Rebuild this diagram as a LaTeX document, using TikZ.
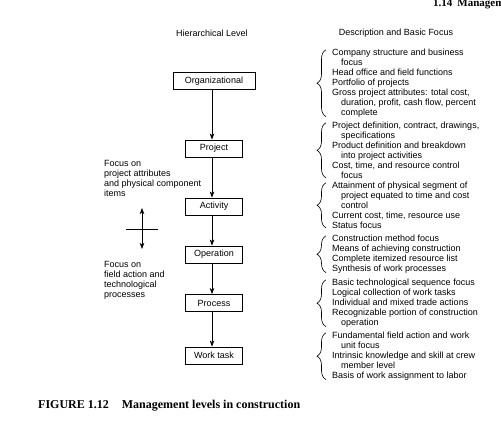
\documentclass[tikz,border=0pt]{standalone}
\usepackage{fontspec}
\setmainfont{Liberation Sans}
\newfontfamily\capfont{Liberation Serif}
\usetikzlibrary{arrows.meta,decorations.pathreplacing}
\begin{document}
\begin{tikzpicture}[x=1pt,y=-1pt,
  lvl/.style={draw,line width=0.8pt,minimum width=57pt,minimum height=17pt,inner sep=0pt,font=\fontsize{9}{10}\selectfont},
  desc/.style={anchor=north west,align=left,inner sep=0pt,font=\fontsize{9}{10}\selectfont},
  head/.style={inner sep=0pt,font=\fontsize{9}{10}\selectfont},
  conn/.style={line width=0.8pt,-{Stealth[length=6pt,width=4.5pt,inset=1.5pt]}},
  grp/.style={decorate,decoration={brace,amplitude=9pt},line width=0.6pt}]
\useasboundingbox (0,0) rectangle (501,432);
\clip (0,0) rectangle (501,432);
\node[anchor=base west,inner sep=0pt,font=\capfont\bfseries\fontsize{11}{13}\selectfont] (hdr) at (433,6) {1.14\hspace{5pt}Management};
\node[head] (hl) at (212,33) {Hierarchical Level};
\node[head] (dl) at (396,33) {Description and Basic Focus};
\node[lvl,minimum width=82pt] (org) at (214,81) {Organizational};
\node[lvl] (proj) at (214,148.5) {Project};
\node[lvl] (act) at (214,206.5) {Activity};
\node[lvl] (oper) at (214,254.5) {Operation};
\node[lvl] (proc) at (214,303) {Process};
\node[lvl] (wt) at (214,355.5) {Work task};
\draw[conn] (org.south -| 212,0) -- (proj.north -| 212,0);
\draw[conn] (proj.south -| 212,0) -- (act.north -| 212,0);
\draw[conn] (act.south -| 212,0) -- (oper.north -| 212,0);
\draw[conn] (oper.south -| 212,0) -- (proc.north -| 212,0);
\draw[conn] (proc.south -| 212,0) -- (wt.north -| 212,0);
\node[desc] (lt1) at (104,159.8) {Focus on\\project attributes\\and physical component\\items};
\node[desc] (lt2) at (104,260.8) {Focus on\\field action and\\technological\\processes};
\coordinate (ua) at (142,208);
\coordinate (da) at (142,249);
\coordinate (hl1) at (126,229);
\coordinate (hl2) at (158,229);
\draw[line width=0.8pt,{Stealth[length=6pt,width=4.5pt,inset=1.5pt]}-{Stealth[length=6pt,width=4.5pt,inset=1.5pt]}] (ua) -- (da);
\draw[line width=0.8pt] (hl1) -- (hl2);
\node[desc] (g1) at (332,48.8) {Company structure and business\\\hspace*{9pt}focus\\Head office and field functions\\Portfolio of projects\\Gross project attributes: total cost,\\\hspace*{9pt}duration, profit, cash flow, percent\\\hspace*{9pt}complete};
\node[desc] (g2) at (332,121.8) {Project definition, contract, drawings,\\\hspace*{9pt}specifications\\Product definition and breakdown\\\hspace*{9pt}into project activities\\Cost, time, and resource control\\\hspace*{9pt}focus};
\node[desc] (g3) at (332,181.8) {Attainment of physical segment of\\\hspace*{9pt}project equated to time and cost\\\hspace*{9pt}control\\Current cost, time, resource use\\Status focus};
\node[desc] (g4) at (332,234.8) {Construction method focus\\Means of achieving construction\\Complete itemized resource list\\Synthesis of work processes};
\node[desc] (g5) at (332,278.8) {Basic technological sequence focus\\Logical collection of work tasks\\Individual and mixed trade actions\\Recognizable portion of construction\\\hspace*{9pt}operation};
\node[desc] (g6) at (332,331.8) {Fundamental field action and work\\\hspace*{9pt}unit focus\\Intrinsic knowledge and skill at crew\\\hspace*{9pt}member level\\Basis of work assignment to labor};
\foreach \g in {g1,g2,g3,g4,g5,g6}{
  \draw[grp] ([xshift=-6pt,yshift=1pt]\g.south west) -- ([xshift=-6pt,yshift=-1pt]\g.north west);
}
\node[anchor=base west,inner sep=0pt,font=\capfont\bfseries\fontsize{12}{14}\selectfont] (cap) at (38,408) {FIGURE 1.12\hspace{13pt}Management levels in construction};
\end{tikzpicture}
\end{document}
